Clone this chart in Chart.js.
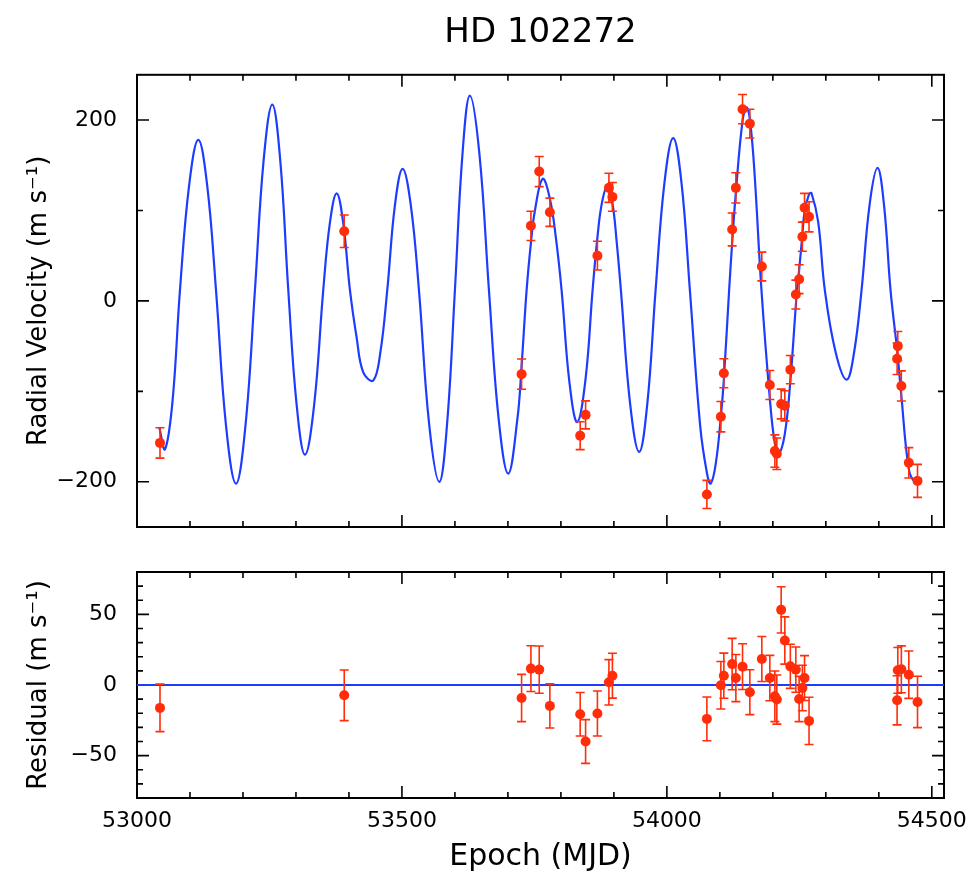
<!DOCTYPE html>
<html>
<head>
<meta charset="UTF-8" />
<title>HD 102272</title>
<script src="https://cdn.jsdelivr.net/npm/chart.js@4.4.1/dist/chart.umd.min.js"></script>
<style>
  body { margin: 0; background: #fff; }
  .page { position: relative; width: 974px; height: 872px; }
  #rvBox { position: absolute; left: 0; top: 0; width: 974px; height: 545px; }
  #resBox { position: absolute; left: 0; top: 545px; width: 974px; height: 327px; }
</style>
</head>
<body>
<div class="page">
  <div id="rvBox"><canvas id="rvChart"></canvas></div>
  <div id="resBox"><canvas id="resChart"></canvas></div>
</div>
<script>
const epochs = [53043.4, 53391.1, 53725.8, 53743.4, 53759.1, 53779.2, 53836.4, 53846.6, 53868.9, 53890.6,
  53897.2, 54075.5, 54101.9, 54107.5, 54123.2, 54130.2, 54142.8, 54156.6, 54179.2, 54194.3,
  54203.8, 54207.5, 54215.7, 54222.6, 54233.0, 54243.4, 54249.6, 54255.7, 54259.8, 54268.3,
  54434.5, 54435.8, 54442.5, 54456.6, 54473.0];
const rv = [-157, 77, -81, 83, 143, 98, -149, -126, 50, 125,
  115, -214, -128, -80, 79, 125, 212, 196, 38, -93,
  -166, -169, -114, -116, -76, 7, 24, 71, 103, 93,
  -64, -50, -94, -179, -199];
const rvErr = [16.8, 17.9, 16.7, 16.2, 16.7, 15.6, 15.4, 15.5, 15.9, 16.1,
  15.9, 15.5, 16.8, 16.0, 18.2, 16.7, 16.2, 15.9, 15.9, 16.1,
  17.9, 17.4, 16.4, 16.7, 15.6, 16.0, 16.0, 16.1, 15.9, 16.7,
  17.4, 16.2, 16.6, 16.8, 18.2];
const residuals = [-16.2, -7.3, -9.2, 11.6, 10.9, -14.8, -20.7, -40.0, -20.2, 1.9,
  6.6, -24.0, -0.2, 6.6, 14.8, 4.9, 13.0, -5.1, 18.4, 4.9,
  -8.0, -10.3, 53.2, 31.5, 13.2, 10.9, -9.9, -2.1, 4.9, -25.4,
  -10.8, 10.4, 11.1, 7.3, -12.0];

// fitted orbit curve, sampled by eye off the figure
const modelEpochs = [
  53042.1, 53052.8, 53067.0, 53081.1, 53098.4, 53115.7, 53132.4, 53149.1, 53168.0, 53186.8,
  53204.7, 53222.6, 53238.9, 53255.3, 53270.4, 53285.5, 53301.3, 53317.0, 53334.3, 53351.5,
  53364.2, 53376.8, 53389.0, 53401.9, 53414.4, 53427.0, 53445.8, 53459.0, 53472.3, 53486.8,
  53501.3, 53516.7, 53532.1, 53551.3, 53570.4, 53585.2, 53600.0, 53614.2, 53628.3, 53646.3,
  53664.2, 53682.4, 53700.6, 53718.0, 53725.8, 53735.3, 53743.4, 53751.0, 53765.5, 53779.2,
  53790.5, 53801.3, 53816.1, 53830.8, 53846.6, 53859.8, 53868.9, 53877.0, 53887.4, 53897.2,
  53905.0, 53913.2, 53930.5, 53947.7, 53963.2, 53978.7, 53995.3, 54011.9, 54027.7, 54043.4,
  54063.0, 54075.5, 54082.5, 54092.0, 54101.9, 54107.5, 54117.5, 54123.2, 54130.2, 54142.8,
  54150.4, 54156.6, 54165.0, 54178.5, 54194.3, 54203.8, 54211.3, 54222.6, 54233.0, 54245.5,
  54249.6, 54255.7, 54259.8, 54268.3, 54273.0, 54285.6, 54298.1, 54318.6, 54339.1, 54353.3,
  54367.4, 54382.5, 54397.5, 54409.8, 54422.1, 54435.0, 54442.5, 54456.6, 54467.9, 54471.7];
const modelRv = [
  -140, -164, -111, 12, 128, 178, 128, 12, -138, -202,
  -138, 12, 155, 217, 155, 12, -115, -170, -115, 12,
  87, 119, 87, 12, -40, -79, -88, -58, 12, 106,
  146, 106, 12, -136, -200, -136, 12, 162, 227, 162,
  12, -130, -191, -130, -72, 12, 64, 100, 135, 113,
  70, 12, -90, -134, -86, 12, 70, 107, 127, 108,
  67, 12, -113, -167, -113, 12, 130, 180, 130, 12,
  -139, -190, -202, -181, -128, -87, 12, 64, 120, 199,
  214, 201, 145, 12, -108, -158, -169, -147, -89, 12,
  34, 73, 98, 118, 119, 87, 12, -57, -87, -57,
  12, 106, 147, 106, 12, -57, -105, -186, -200, -194];

const xMin = 53000, xMax = 54523;
const xTickValues = [53000, 53500, 54000, 54500];

const RED = '#ff2d0a';
const BLUE = '#1e3cff';

Chart.defaults.font.family = 'DejaVu Sans';
Chart.defaults.color = '#000';

function minusLabel(v) {
  return v < 0 ? '\u2212' + Math.abs(v) : String(v);
}

// frame with inward ticks on all four sides (drawn under the data)
const framePlugin = {
  id: 'frame',
  beforeDatasetsDraw(chart, args, opts) {
    const {ctx, chartArea: a, scales: {x, y}} = chart;
    ctx.save();
    ctx.strokeStyle = '#000';
    ctx.lineWidth = 2;
    ctx.strokeRect(a.left, a.top, a.right - a.left, a.bottom - a.top);
    ctx.lineWidth = 1.6;
    ctx.beginPath();
    for (let v = Math.ceil(x.min / opts.xMinor) * opts.xMinor; v <= x.max; v += opts.xMinor) {
      const px = x.getPixelForValue(v);
      const len = v % opts.xMajor === 0 ? 12 : 6;
      ctx.moveTo(px, a.bottom); ctx.lineTo(px, a.bottom - len);
      ctx.moveTo(px, a.top); ctx.lineTo(px, a.top + len);
    }
    for (let v = Math.ceil(y.min / opts.yMinor) * opts.yMinor; v <= y.max; v += opts.yMinor) {
      const py = y.getPixelForValue(v);
      const len = v % opts.yMajor === 0 ? 12 : 6;
      ctx.moveTo(a.left, py); ctx.lineTo(a.left + len, py);
      ctx.moveTo(a.right, py); ctx.lineTo(a.right - len, py);
    }
    ctx.stroke();
    ctx.restore();
  }
};

// vertical error bars with caps
const errorBarPlugin = {
  id: 'errorBars',
  afterDatasetsDraw(chart) {
    const {ctx, scales: {x, y}} = chart;
    ctx.save();
    ctx.beginPath();
    ctx.rect(chart.chartArea.left, chart.chartArea.top, chart.chartArea.width, chart.chartArea.height);
    ctx.clip();
    chart.data.datasets.forEach(ds => {
      if (!ds.errorBars) return;
      ctx.strokeStyle = ds.backgroundColor;
      ctx.lineWidth = 1.6;
      ds.data.forEach(p => {
        const px = x.getPixelForValue(p.x);
        const lo = y.getPixelForValue(p.y - p.err);
        const hi = y.getPixelForValue(p.y + p.err);
        ctx.beginPath();
        ctx.moveTo(px, lo); ctx.lineTo(px, hi);
        ctx.moveTo(px - 4.5, lo); ctx.lineTo(px + 4.5, lo);
        ctx.moveTo(px - 4.5, hi); ctx.lineTo(px + 4.5, hi);
        ctx.stroke();
      });
    });
    ctx.restore();
  }
};

const rvPoints = epochs.map((e, i) => ({x: e, y: rv[i], err: rvErr[i]}));
const resPoints = epochs.map((e, i) => ({x: e, y: residuals[i], err: rvErr[i]}));
const modelPoints = modelEpochs.map((e, i) => ({x: e, y: modelRv[i]}));
const zeroLine = [{x: xMin, y: 0}, {x: xMax, y: 0}];

function xScale(showLabels, height) {
  return {
    type: 'linear',
    min: xMin,
    max: xMax,
    grid: {display: false, drawTicks: false},
    border: {display: false},
    afterBuildTicks: s => { s.ticks = xTickValues.map(v => ({value: v})); },
    ticks: {
      display: showLabels,
      autoSkip: false,
      padding: 10,
      font: {size: 22},
      maxRotation: 0,
      callback: v => String(v)
    },
    title: {
      display: showLabels,
      text: 'Epoch (MJD)',
      font: {size: 30, lineHeight: 1.0},
      padding: {bottom: 0}
    },
    afterFit: s => { s.height = height; s.paddingLeft = 0; s.paddingRight = 0; }
  };
}

function yScale(min, max, step, title) {
  return {
    type: 'linear',
    min: min,
    max: max,
    grid: {display: false, drawTicks: false},
    border: {display: false},
    ticks: {
      includeBounds: false,
      stepSize: step,
      padding: 20,
      font: {size: 22},
      callback: minusLabel
    },
    title: {
      display: true,
      text: title,
      font: {size: 26},
      padding: {top: 24}
    },
    afterFit: s => { s.width = 137; s.paddingTop = 0; s.paddingBottom = 0; }
  };
}

new Chart(document.getElementById('rvChart'), {
  type: 'scatter',
  data: {
    datasets: [
      {
        data: rvPoints,
        backgroundColor: RED,
        borderColor: RED,
        pointRadius: 5,
        pointHoverRadius: 5,
        borderWidth: 0,
        errorBars: true,
        order: 0
      },
      {
        data: modelPoints,
        showLine: true,
        borderColor: BLUE,
        borderWidth: 2.2,
        pointRadius: 0,
        tension: 0.4,
        order: 1
      }
    ]
  },
  options: {
    responsive: true,
    maintainAspectRatio: false,
    animation: false,
    layout: {padding: {top: 0, right: 30, bottom: 0, left: 0}},
    plugins: {
      legend: {display: false},
      tooltip: {enabled: false},
      title: {
        display: true,
        text: 'HD 102272',
        fullSize: false,
        color: '#000',
        font: {size: 34, weight: 'normal'},
        padding: {top: 13, bottom: 21}
      },
      frame: {xMinor: 100, xMajor: 500, yMinor: 100, yMajor: 200}
    },
    scales: {
      x: xScale(false, 18),
      y: yScale(-250, 250, 200, 'Radial Velocity (m s\u207B\u00B9)')
    }
  },
  plugins: [framePlugin, errorBarPlugin]
});

new Chart(document.getElementById('resChart'), {
  type: 'scatter',
  data: {
    datasets: [
      {
        data: resPoints,
        backgroundColor: RED,
        borderColor: RED,
        pointRadius: 5,
        pointHoverRadius: 5,
        borderWidth: 0,
        errorBars: true,
        order: 0
      },
      {
        data: zeroLine,
        showLine: true,
        borderColor: BLUE,
        borderWidth: 2.2,
        pointRadius: 0,
        order: 1
      }
    ]
  },
  options: {
    responsive: true,
    maintainAspectRatio: false,
    animation: false,
    layout: {padding: {top: 27, right: 30, bottom: 0, left: 0}},
    plugins: {
      legend: {display: false},
      tooltip: {enabled: false},
      frame: {xMinor: 100, xMajor: 500, yMinor: 10, yMajor: 50}
    },
    scales: {
      x: xScale(true, 74),
      y: yScale(-80, 80, 50, 'Residual (m s\u207B\u00B9)')
    }
  },
  plugins: [framePlugin, errorBarPlugin]
});
</script>
</body>
</html>
